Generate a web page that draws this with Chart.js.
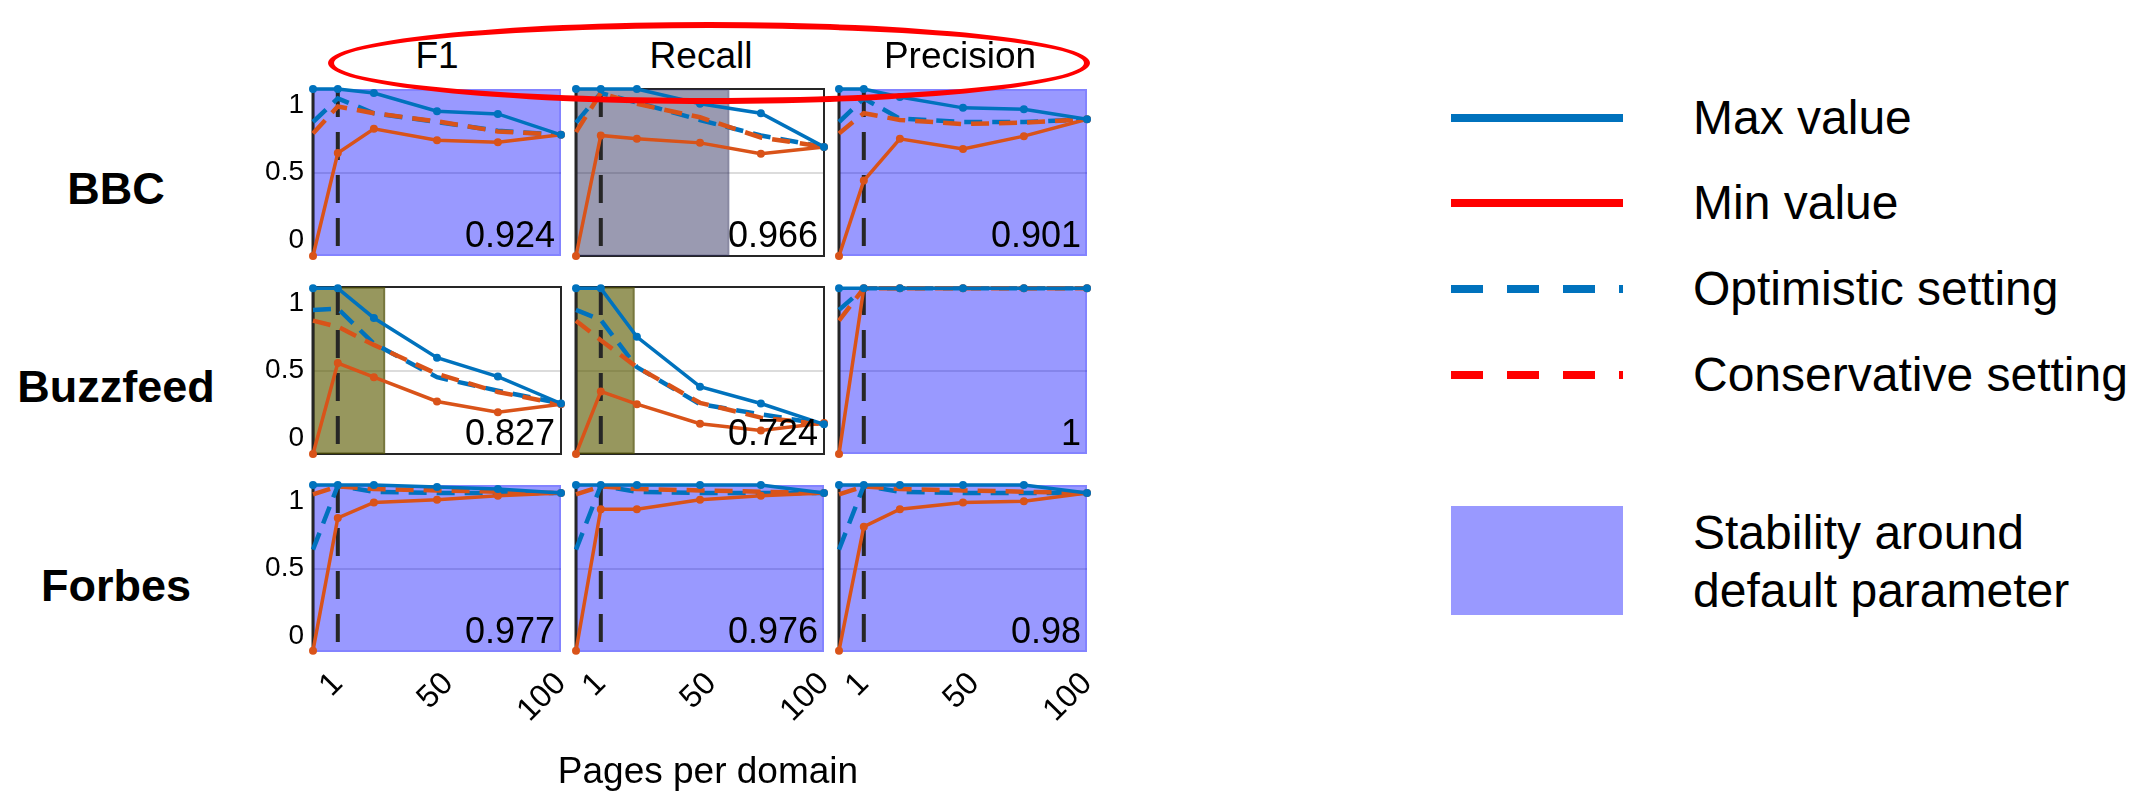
<!DOCTYPE html>
<html>
<head>
<meta charset="utf-8">
<script src="https://cdn.jsdelivr.net/npm/chart.js@4.4.0/dist/chart.umd.min.js"></script>
<style>
  body { margin: 0; width: 2144px; height: 791px; background: #fff; position: relative; overflow: hidden;
         font-family: 'Liberation Sans', Arial, sans-serif; color: #000; }
  canvas.panel { position: absolute; }
  .lbl { position: absolute; white-space: nowrap; line-height: 1; }
  .c { transform: translate(-50%, -50%); }
  .l { transform: translateY(-50%); }
  .ellipse { position: absolute; box-sizing: border-box; border: 6px solid #ff0000; border-radius: 50%; z-index: 5; }
  .sw { position: absolute; }
</style>
</head>
<body>
<script>
// x positions of the samples (pages per domain) and axis ticks
const pagesPerDomain = [-10, 1, 17, 45, 72, 100];
const xTickValues = [1, 50, 100];
const yTickValues = [0, 0.5, 1];
const defaultPages = 1;

const metrics = ['F1', 'Recall', 'Precision'];
const sites = ['BBC', 'Buzzfeed', 'Forbes'];

// each site: one row per metric (F1, Recall, Precision)
const bbcMax = [[1.12, 1.12, 1.09, 0.955, 0.935, 0.78], [1.12, 1.12, 1.12, 1.01, 0.94, 0.69], [1.12, 1.12, 1.06, 0.98, 0.97, 0.895]];
const bbcMin = [[-0.12, 0.645, 0.825, 0.74, 0.725, 0.78], [-0.12, 0.775, 0.75, 0.72, 0.64, 0.69], [-0.12, 0.44, 0.75, 0.675, 0.77, 0.895]];
const bbcOpt = [[0.875, 1.05, 0.94, 0.875, 0.81, 0.78], [0.87, 1.09, 1.02, 0.89, 0.775, 0.69], [0.875, 1.05, 0.9, 0.875, 0.875, 0.895]];
const bbcCons = [[0.79, 0.99, 0.94, 0.88, 0.805, 0.78], [0.8, 1.09, 1.01, 0.91, 0.76, 0.69], [0.79, 0.94, 0.89, 0.86, 0.87, 0.895]];

const buzzMax = [[1.11, 1.11, 0.89, 0.595, 0.455, 0.255], [1.11, 1.11, 0.75, 0.38, 0.255, 0.10], [1.11, 1.11, 1.11, 1.11, 1.11, 1.11]];
const buzzMin = [[-0.12, 0.555, 0.45, 0.27, 0.19, 0.25], [-0.12, 0.345, 0.25, 0.105, 0.055, 0.11], [-0.12, 1.11, 1.11, 1.11, 1.11, 1.11]];
const buzzOpt = [[0.95, 0.96, 0.70, 0.45, 0.35, 0.255], [0.95, 0.875, 0.525, 0.25, 0.175, 0.10], [0.95, 1.11, 1.11, 1.11, 1.11, 1.11]];
const buzzCons = [[0.87, 0.825, 0.69, 0.475, 0.34, 0.25], [0.87, 0.725, 0.525, 0.26, 0.15, 0.10], [0.87, 1.11, 1.11, 1.11, 1.11, 1.11]];

const forbesMax = [[1.12, 1.12, 1.12, 1.105, 1.09, 1.06], [1.12, 1.12, 1.12, 1.12, 1.12, 1.06], [1.12, 1.12, 1.12, 1.12, 1.12, 1.06]];
const forbesMin = [[-0.11, 0.875, 0.99, 1.01, 1.04, 1.06], [-0.11, 0.94, 0.94, 1.01, 1.04, 1.06], [-0.11, 0.81, 0.94, 0.99, 1.0, 1.06]];
const forbesOpt = [[0.64, 1.115, 1.07, 1.06, 1.06, 1.06], [0.64, 1.115, 1.07, 1.06, 1.06, 1.06], [0.64, 1.115, 1.07, 1.06, 1.06, 1.06]];
const forbesCons = [[1.05, 1.11, 1.09, 1.08, 1.07, 1.06], [1.05, 1.11, 1.09, 1.08, 1.07, 1.06], [1.05, 1.11, 1.09, 1.08, 1.07, 1.06]];

const scoreLabels = [['0.924', '0.966', '0.901'], ['0.827', '0.724', '1'], ['0.977', '0.976', '0.98']];
// how far the shaded "stable" area reaches, and its colour
const stableUpTo = [[100, 58, 100], [22, 16, 100], [100, 100, 100]];
const stableKind = [['blue', 'gray', 'blue'], ['olive', 'olive', 'blue'], ['blue', 'blue', 'blue']];

const siteSeries = [
  { max: bbcMax, min: bbcMin, opt: bbcOpt, cons: bbcCons },
  { max: buzzMax, min: buzzMin, opt: buzzOpt, cons: buzzCons },
  { max: forbesMax, min: forbesMin, opt: forbesOpt, cons: forbesCons }
];

const BLUE = '#0072BD';
const ORANGE = '#D95319';
const FONT = "'Liberation Sans', Arial, sans-serif";
const shadeStyles = {
  blue: { fill: 'rgba(0,0,255,0.4)', edge: 'rgba(0,0,255,0.15)' },
  gray: { fill: 'rgba(40,40,90,0.47)', edge: 'rgba(40,40,90,0.15)' },
  olive: { fill: 'rgba(90,90,0,0.63)', edge: 'rgba(60,60,0,0.35)' }
};

// panel geometry
const colLeft = [313, 576, 839];
const rowTop = [89, 287, 485];
const panelW = 248, panelH = 167;
const padL = 60, padT = 6, padR = 20, padB = 100;

const stabilityPlugin = {
  id: 'stability',
  beforeDatasetsDraw(chart, args, opts) {
    const { ctx, chartArea: a } = chart;
    const xr = chart.scales.x.getPixelForValue(opts.upTo);
    const st = shadeStyles[opts.kind];
    ctx.save();
    if (opts.frame) {
      ctx.strokeStyle = '#262626';
      ctx.lineWidth = 2;
      ctx.strokeRect(a.left, a.top, a.width, a.height);
    }
    ctx.fillStyle = st.fill;
    ctx.fillRect(a.left, a.top, xr - a.left, a.height);
    ctx.strokeStyle = st.edge;
    ctx.lineWidth = 2;
    ctx.strokeRect(a.left + 1, a.top + 1, xr - a.left - 2, a.height - 2);
    // y axis line
    ctx.strokeStyle = '#262626';
    ctx.lineWidth = 3;
    ctx.beginPath();
    ctx.moveTo(a.left, a.top);
    ctx.lineTo(a.left, a.bottom);
    ctx.stroke();
    ctx.restore();
  },
  afterDatasetsDraw(chart, args, opts) {
    const { ctx, chartArea: a } = chart;
    ctx.save();
    ctx.font = '36px ' + FONT;
    ctx.fillStyle = '#000';
    ctx.textAlign = 'right';
    ctx.textBaseline = 'alphabetic';
    ctx.fillText(opts.label, a.right - 6, a.bottom - 9);
    ctx.restore();
  }
};

function toPoints(values) {
  return pagesPerDomain.map((x, i) => ({ x: x, y: values[i] }));
}

// keep every panel's plot area at the same spot, whatever labels it shows
function noPadding(sc) {
  sc.paddingLeft = 0; sc.paddingRight = 0; sc.paddingTop = 0; sc.paddingBottom = 0;
}

function buildPanel(row, col) {
  const cv = document.createElement('canvas');
  cv.className = 'panel';
  cv.width = padL + panelW + padR;
  cv.height = padT + panelH + padB;
  cv.style.left = (colLeft[col] - padL) + 'px';
  cv.style.top = (rowTop[row] - padT) + 'px';
  document.body.appendChild(cv);

  const s = siteSeries[row];
  new Chart(cv, {
    type: 'line',
    data: {
      datasets: [
        { label: 'Max value', data: toPoints(s.max[col]), borderColor: BLUE, backgroundColor: BLUE,
          borderWidth: 3.5, pointRadius: 4, pointBorderWidth: 0, order: 1, clip: false },
        { label: 'Min value', data: toPoints(s.min[col]), borderColor: ORANGE, backgroundColor: ORANGE,
          borderWidth: 3.5, pointRadius: 4, pointBorderWidth: 0, order: 2, clip: false },
        { label: 'Conservative setting', data: toPoints(s.cons[col]), borderColor: ORANGE,
          borderWidth: 4.5, borderDash: [18, 10], pointRadius: 0, order: 3, clip: false },
        { label: 'Optimistic setting', data: toPoints(s.opt[col]), borderColor: BLUE,
          borderWidth: 4.5, borderDash: [18, 10], pointRadius: 0, order: 4, clip: false },
        { label: 'Default', data: [{ x: defaultPages, y: 1.12 }, { x: defaultPages, y: -0.12 }],
          borderColor: '#262626', borderWidth: 4, borderDash: [28, 15], pointRadius: 0, order: 10 }
      ]
    },
    options: {
      responsive: false,
      animation: false,
      devicePixelRatio: 1,
      layout: { autoPadding: false, padding: { top: padT, right: padR, left: 0, bottom: 0 } },
      plugins: {
        legend: { display: false },
        tooltip: { enabled: false },
        stability: {
          upTo: stableUpTo[row][col],
          kind: stableKind[row][col],
          frame: stableUpTo[row][col] < 100,
          label: scoreLabels[row][col]
        }
      },
      scales: {
        x: {
          type: 'linear', min: -10, max: 100,
          afterBuildTicks: sc => { sc.ticks = xTickValues.map(v => ({ value: v })); },
          afterFit: sc => { sc.height = padB; noPadding(sc); },
          grid: { display: false, drawTicks: false },
          border: { display: false },
          ticks: { display: row === 2, autoSkip: false, minRotation: 45, maxRotation: 45, padding: 13,
                   color: '#000', font: { family: FONT, size: 32 }, callback: v => String(v) }
        },
        y: {
          min: -0.12, max: 1.12,
          afterBuildTicks: sc => { sc.ticks = yTickValues.map(v => ({ value: v })); },
          afterFit: sc => { sc.width = padL; noPadding(sc); },
          grid: { drawTicks: false, lineWidth: 2,
                  color: c => (c.tick && c.tick.value === 0.5) ? '#dcdcdc' : 'rgba(0,0,0,0)' },
          border: { display: false },
          ticks: { display: col === 0, padding: 9, color: '#000', font: { family: FONT, size: 28 },
                   callback: v => String(v) }
        }
      }
    },
    plugins: [stabilityPlugin]
  });
}

for (let r = 0; r < sites.length; r++) {
  for (let c = 0; c < metrics.length; c++) buildPanel(r, c);
}

function addText(txt, x, y, css, cls) {
  const d = document.createElement('div');
  d.className = 'lbl ' + cls;
  d.textContent = txt;
  d.style.left = x + 'px';
  d.style.top = y + 'px';
  Object.assign(d.style, css);
  document.body.appendChild(d);
}

// column titles and the red ellipse around them
const titleX = [437, 701, 960];
metrics.forEach((m, i) => addText(m, titleX[i], 55, { fontSize: '37px' }, 'c'));
const el = document.createElement('div');
el.className = 'ellipse';
Object.assign(el.style, { left: '328px', top: '22px', width: '762px', height: '82px' });
document.body.appendChild(el);

// row labels
const rowLabelY = [188, 386, 585];
sites.forEach((s, i) => addText(s, 116, rowLabelY[i], { fontSize: '45px', fontWeight: 'bold' }, 'c'));

// x axis title
addText('Pages per domain', 708, 770, { fontSize: '37px' }, 'c');

// legend
const legendItems = [
  { text: 'Max value', color: BLUE, dashed: false, y: 118 },
  { text: 'Min value', color: '#ff0000', dashed: false, y: 203 },
  { text: 'Optimistic setting', color: BLUE, dashed: true, y: 289 },
  { text: 'Conservative setting', color: '#ff0000', dashed: true, y: 375 }
];
legendItems.forEach(it => {
  const sw = document.createElement('div');
  sw.className = 'sw';
  Object.assign(sw.style, { left: '1451px', top: (it.y - 4) + 'px', width: '172px', height: '8px' });
  sw.style.background = it.dashed
    ? 'repeating-linear-gradient(to right, ' + it.color + ' 0px, ' + it.color + ' 32px, transparent 32px, transparent 56px)'
    : it.color;
  document.body.appendChild(sw);
  addText(it.text, 1693, it.y, { fontSize: '48px' }, 'l');
});
const box = document.createElement('div');
box.className = 'sw';
Object.assign(box.style, { left: '1451px', top: '506px', width: '172px', height: '109px', background: '#9999ff' });
document.body.appendChild(box);
addText('Stability around', 1693, 533, { fontSize: '48px' }, 'l');
addText('default parameter', 1693, 591, { fontSize: '48px' }, 'l');
</script>
</body>
</html>
